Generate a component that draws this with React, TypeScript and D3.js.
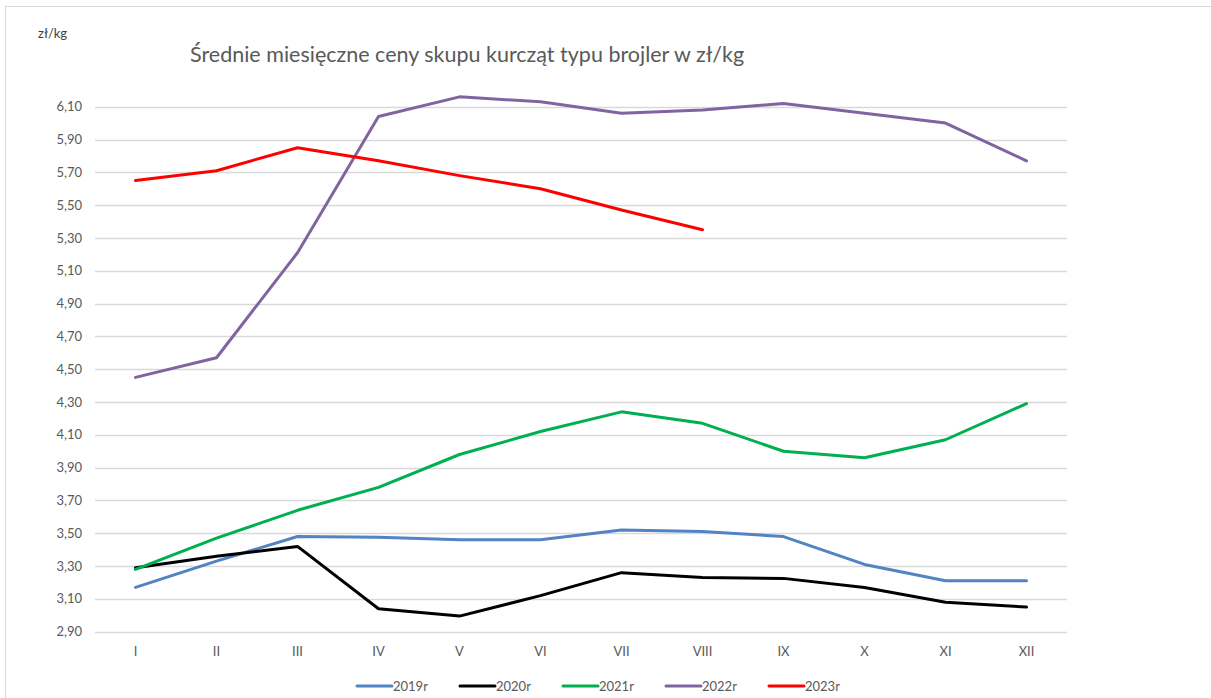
import React, { useEffect, useRef } from "react";
import * as d3 from "d3";

const months = ["I", "II", "III", "IV", "V", "VI", "VII", "VIII", "IX", "X", "XI", "XII"];
const yTicks = [2.9, 3.1, 3.3, 3.5, 3.7, 3.9, 4.1, 4.3, 4.5, 4.7, 4.9, 5.1, 5.3, 5.5, 5.7, 5.9, 6.1];

const s2019 = [3.17, 3.33, 3.48, 3.475, 3.46, 3.46, 3.52, 3.51, 3.48, 3.31, 3.21, 3.21];
const s2020 = [3.29, 3.36, 3.42, 3.04, 2.995, 3.12, 3.26, 3.23, 3.225, 3.17, 3.08, 3.05];
const s2021 = [3.28, 3.47, 3.64, 3.78, 3.98, 4.12, 4.24, 4.17, 4.0, 3.96, 4.07, 4.29];
const s2022 = [4.45, 4.57, 5.21, 6.04, 6.16, 6.13, 6.06, 6.08, 6.12, 6.06, 6.0, 5.77];
const s2023 = [5.65, 5.71, 5.85, 5.77, 5.68, 5.6, 5.47, 5.35];

const seriesNames = ["2019r", "2020r", "2021r", "2022r", "2023r"];
const seriesColors = ["#5283C2", "#000000", "#00B050", "#8064A2", "#FF0000"];
const seriesData = [s2019, s2020, s2021, s2022, s2023];

const title = "Średnie miesięczne ceny skupu kurcząt typu brojler w zł/kg";
const unit = "zł/kg";

export default function App() {
  const ref = useRef<SVGSVGElement>(null);
  useEffect(() => {
    const svg = d3.select(ref.current);
    svg.selectAll("*").remove();
    const font = "Lato, 'Open Sans', sans-serif";
    const left = 95, right = 1067, top = 106.7, bottom = 631.7;
    const x = d3.scaleBand<string>().domain(months).range([left, right]);
    const y = d3.scaleLinear().domain([2.9, 6.1]).range([bottom, top]);

    svg.append("rect").attr("x", 5.5).attr("y", 6.5).attr("width", 1240).attr("height", 720)
      .attr("fill", "#fff").attr("stroke", "#D9D9D9").attr("stroke-width", 1);

    svg.append("g").selectAll("line").data(yTicks).join("line")
      .attr("x1", left).attr("x2", right)
      .attr("y1", d => Math.round(y(d)) + 0.5).attr("y2", d => Math.round(y(d)) + 0.5)
      .attr("stroke", "#D9D9D9").attr("stroke-width", 1.3);

    svg.append("g").selectAll("text").data(yTicks).join("text")
      .attr("x", 82).attr("y", d => y(d)).attr("dy", "0.35em")
      .attr("text-anchor", "end").attr("font-family", font).attr("font-size", 13)
      .attr("fill", "#595959").text(d => d.toFixed(2).replace(".", ","));

    svg.append("g").selectAll("text").data(months).join("text")
      .attr("x", d => (x(d) as number) + x.bandwidth() / 2).attr("y", 656)
      .attr("text-anchor", "middle").attr("font-family", font).attr("font-size", 13)
      .attr("fill", "#595959").text(d => d);

    const line = d3.line<number>()
      .x((_, i) => (x(months[i]) as number) + x.bandwidth() / 2)
      .y(d => y(d))
      .curve(d3.curveLinear);

    seriesData.forEach((s, k) => {
      svg.append("path").datum(s).attr("d", line).attr("fill", "none")
        .attr("stroke", seriesColors[k]).attr("stroke-width", 3)
        .attr("stroke-linecap", "round").attr("stroke-linejoin", "round");
    });

    svg.append("text").attr("x", 190).attr("y", 62).attr("font-family", font)
      .attr("font-size", 21.5).attr("fill", "#595959").text(title);
    svg.append("text").attr("x", 38).attr("y", 38).attr("font-family", font)
      .attr("font-size", 13).attr("fill", "#404040").text(unit);

    const lg = svg.append("g");
    seriesNames.forEach((n, k) => {
      const lx = 357 + k * 103;
      lg.append("line").attr("x1", lx).attr("x2", lx + 35).attr("y1", 686).attr("y2", 686)
        .attr("stroke", seriesColors[k]).attr("stroke-width", 3).attr("stroke-linecap", "round");
      lg.append("text").attr("x", lx + 36).attr("y", 686).attr("dy", "0.35em")
        .attr("font-family", font).attr("font-size", 13).attr("fill", "#595959").text(n);
    });
  }, []);
  return (
    <svg ref={ref} width={1211} height={698}
      style={{ position: "absolute", left: 0, top: 0, background: "#fff" }} />
  );
}
